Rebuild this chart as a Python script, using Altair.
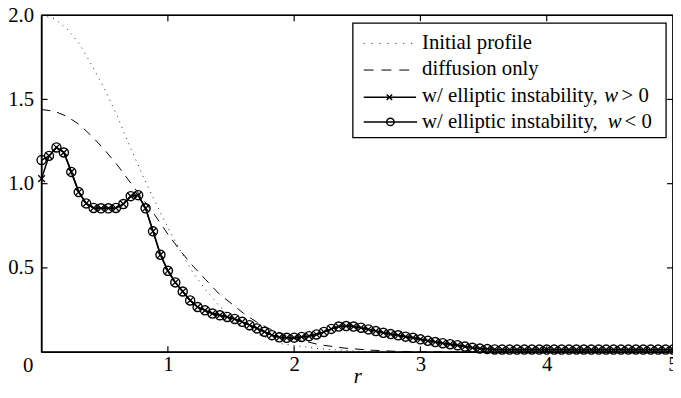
import altair as alt
import pandas as pd

FONT = "Liberation Serif"
FS = 21

# ---------------- data ----------------
# initial profile (dotted)
init_r = [0.0, 0.1, 0.2, 0.3, 0.4, 0.5, 0.6, 0.7, 0.8, 0.9, 1.0, 1.1, 1.2, 1.3,
          1.4, 1.5, 1.6, 1.7, 1.8, 1.9, 2.0, 2.2, 2.5, 3.0, 4.0, 5.0]
init_v = [2.00, 1.98, 1.92, 1.83, 1.70, 1.56, 1.40, 1.22, 1.05, 0.89, 0.74, 0.60,
          0.47, 0.37, 0.28, 0.21, 0.15, 0.11, 0.08, 0.05, 0.04, 0.02, 0.005, 0.0,
          0.0, 0.0]

# diffusion only (dashed)
diff_r = [0.0, 0.1, 0.2, 0.3, 0.4, 0.5, 0.6, 0.7, 0.8, 0.9, 1.0, 1.1, 1.2, 1.3,
          1.4, 1.5, 1.6, 1.7, 1.8, 1.9, 2.0, 2.2, 2.4, 2.6, 2.8, 3.0, 3.5, 4.0,
          5.0]
diff_v = [1.44, 1.43, 1.40, 1.35, 1.28, 1.20, 1.11, 1.01, 0.91, 0.81, 0.70, 0.60,
          0.51, 0.43, 0.35, 0.29, 0.23, 0.18, 0.14, 0.11, 0.08, 0.044, 0.024,
          0.012, 0.005, 0.002, 0.0, 0.0, 0.0]

# radial grid of the simulation (86 points, 0 .. 5)
sim_r = [round(i / 17, 4) for i in range(86)]

# w < 0 (circles)
neg_v = [1.14, 1.165, 1.215, 1.185, 1.07, 0.95, 0.883, 0.856, 0.854, 0.854,
         0.856, 0.879, 0.926, 0.932, 0.854, 0.717, 0.578, 0.483, 0.414, 0.36,
         0.307, 0.268, 0.248, 0.229, 0.219, 0.209, 0.197, 0.18, 0.16, 0.141,
         0.121, 0.101, 0.088, 0.085, 0.086, 0.09, 0.095, 0.105, 0.12, 0.138,
         0.152, 0.155, 0.152, 0.145, 0.135, 0.125, 0.115, 0.107, 0.1, 0.092,
         0.085, 0.076, 0.067, 0.06, 0.053, 0.047, 0.041, 0.033, 0.026, 0.021,
         0.018, 0.016, 0.015, 0.015, 0.015, 0.015, 0.015, 0.015, 0.015, 0.015,
         0.015, 0.015, 0.015, 0.015, 0.015, 0.015, 0.015, 0.015, 0.015, 0.015,
         0.015, 0.015, 0.015, 0.015, 0.015, 0.015]

# w > 0 (crosses): identical except at the centre
pos_v = [1.03] + neg_v[1:]

x_ticks = [1, 2, 3, 4]
y_ticks = [0.5, 1.0, 1.5]

# ---------------- layout ----------------
W, H = 639, 341

xs = alt.Scale(domain=[0, 5], nice=False, zero=False)
ys = alt.Scale(domain=[0, 2], nice=False, zero=False)

x_axis = alt.Axis(values=[0, 1, 2, 3, 4, 5], format="d",
                  labelExpr="datum.value == 0 ? '' : format(datum.value, 'd')",
                  grid=False, domain=False, ticks=False, tickSize=0,
                  labelFont=FONT, labelFontSize=FS, labelColor="black",
                  labelBaseline="alphabetic", labelPadding=19, labelFlush=False,
                  title="r", titleFont=FONT, titleFontSize=FS, titleFontStyle="italic",
                  titleFontWeight="normal", titleColor="black", titleY=31,
                  titleBaseline="alphabetic")
y_axis = alt.Axis(values=[0.5, 1.0, 1.5, 2.0], format=".1f", grid=False,
                  domain=False, ticks=False, tickSize=0, labelFont=FONT, labelFontSize=FS,
                  labelColor="black", labelPadding=8, labelBaseline="middle",
                  labelFlush=False, title=None)

df_init = pd.DataFrame({"r": init_r, "v": init_v})
df_diff = pd.DataFrame({"r": diff_r, "v": diff_v})
df_pos = pd.DataFrame({"r": sim_r, "v": pos_v})
df_neg = pd.DataFrame({"r": sim_r, "v": neg_v})

X = alt.X("r:Q", scale=xs, axis=x_axis)
Y = alt.Y("v:Q", scale=ys, axis=y_axis)

init_line = alt.Chart(df_init).mark_line(color="#222", strokeWidth=1, strokeDash=[1, 5]).encode(x=X, y=Y)
diff_line = alt.Chart(df_diff).mark_line(color="black", strokeWidth=1, strokeDash=[9, 7]).encode(x=X, y=Y)

XPATH = "M-1,-1L1,1M-1,1L1,-1"
pos_line = alt.Chart(df_pos).mark_line(color="black", strokeWidth=1.5).encode(x=X, y=Y)
pos_pts = alt.Chart(df_pos).mark_point(shape=XPATH, filled=False, size=45, color="black",
                                       strokeWidth=1.3, opacity=1).encode(x=X, y=Y)
neg_line = alt.Chart(df_neg).mark_line(color="black", strokeWidth=1.5).encode(x=X, y=Y)
neg_pts = alt.Chart(df_neg).mark_point(shape="circle", filled=False, size=85, color="black",
                                       strokeWidth=1.4, opacity=1).encode(x=X, y=Y)

dummy = alt.Data(values=[{"a": 1}])


def seg(x1, x2, y, dash=None, width=1.3, color="black"):
    kw = dict(color=color, strokeWidth=width)
    if dash:
        kw["strokeDash"] = dash
    return alt.Chart(dummy).mark_rule(**kw).encode(x=alt.value(x1), x2=alt.value(x2), y=alt.value(y))


def vseg(x, y1, y2, width=1.3, color="black"):
    return alt.Chart(dummy).mark_rule(color=color, strokeWidth=width).encode(
        x=alt.value(x), y=alt.value(y1), y2=alt.value(y2))


# plot frame drawn as four rules
FW = 1.6
frame = [seg(0, W, 0, width=FW), seg(0, W, H, width=FW), vseg(0, 0, H, width=FW),
         vseg(W, 0, H, width=FW)]

# inward ticks on all four sides (positions from the scales)
df_xt = pd.DataFrame({"r": x_ticks})
df_yt = pd.DataFrame({"v": y_ticks})
TL = 6
tick_b = alt.Chart(df_xt).mark_rule(color="black", strokeWidth=1.2).encode(
    x=X, y=alt.value(H), y2=alt.value(H - TL))
tick_t = alt.Chart(df_xt).mark_rule(color="black", strokeWidth=1.2).encode(
    x=X, y=alt.value(0), y2=alt.value(TL))
tick_l = alt.Chart(df_yt).mark_rule(color="black", strokeWidth=1.2).encode(
    y=Y, x=alt.value(0), x2=alt.value(TL))
tick_r = alt.Chart(df_yt).mark_rule(color="black", strokeWidth=1.2).encode(
    y=Y, x=alt.value(W), x2=alt.value(W - TL))


def txt(s, x, y, italic=False, align="left"):
    return alt.Chart(dummy).mark_text(text=s, align=align, baseline="alphabetic", font=FONT,
                                      fontSize=FS, fontStyle="italic" if italic else "normal",
                                      color="black").encode(x=alt.value(x), y=alt.value(y))


zero_lbl = txt("0", -13.5, H + 20, align="center")

# legend
box = alt.Chart(dummy).mark_rect(fill="white", stroke="black", strokeWidth=1.3).encode(
    x=alt.value(315), x2=alt.value(632), y=alt.value(8), y2=alt.value(124))
TX = 385
rows_base = [34, 61, 87.5, 114]
rows_line = [28.5, 55.5, 83, 108]
leg = [
    box,
    seg(326, 376, rows_line[0], dash=[1, 7], width=1, color="#222"),
    txt("Initial profile", TX, rows_base[0]),
    seg(326, 376, rows_line[1], dash=[10, 8], width=1),
    txt("diffusion only", TX, rows_base[1]),
    seg(326, 379, rows_line[2], width=1.5),
    alt.Chart(dummy).mark_point(shape=XPATH, filled=False, size=30, color="black",
                                strokeWidth=1.5, opacity=1).encode(
        x=alt.value(352), y=alt.value(rows_line[2])),
    txt("w/ elliptic instability,", TX, rows_base[2]),
    txt("w", 569.5, rows_base[2], italic=True),
    txt("> 0", 587, rows_base[2]),
    seg(326, 380, rows_line[3], width=1.5),
    alt.Chart(dummy).mark_point(shape="circle", filled=False, size=55, color="black",
                                strokeWidth=1.5, opacity=1).encode(
        x=alt.value(353), y=alt.value(rows_line[3])),
    txt("w/ elliptic instability,", TX, rows_base[3]),
    txt("w", 573, rows_base[3], italic=True),
    txt("< 0", 590, rows_base[3]),
]

chart = alt.layer(
    init_line, diff_line, pos_line, pos_pts, neg_line, neg_pts,
    *frame, tick_b, tick_t, tick_l, tick_r, zero_lbl, *leg
).properties(
    width=W, height=H,
    autosize=alt.AutoSizeParams(type="none"),
    padding={"left": 34, "top": 5, "right": 0, "bottom": 34},
    background="white",
).configure_view(stroke="black", strokeWidth=1.3)

chart.save("out.html", embed_options={"renderer": "svg", "actions": False})
